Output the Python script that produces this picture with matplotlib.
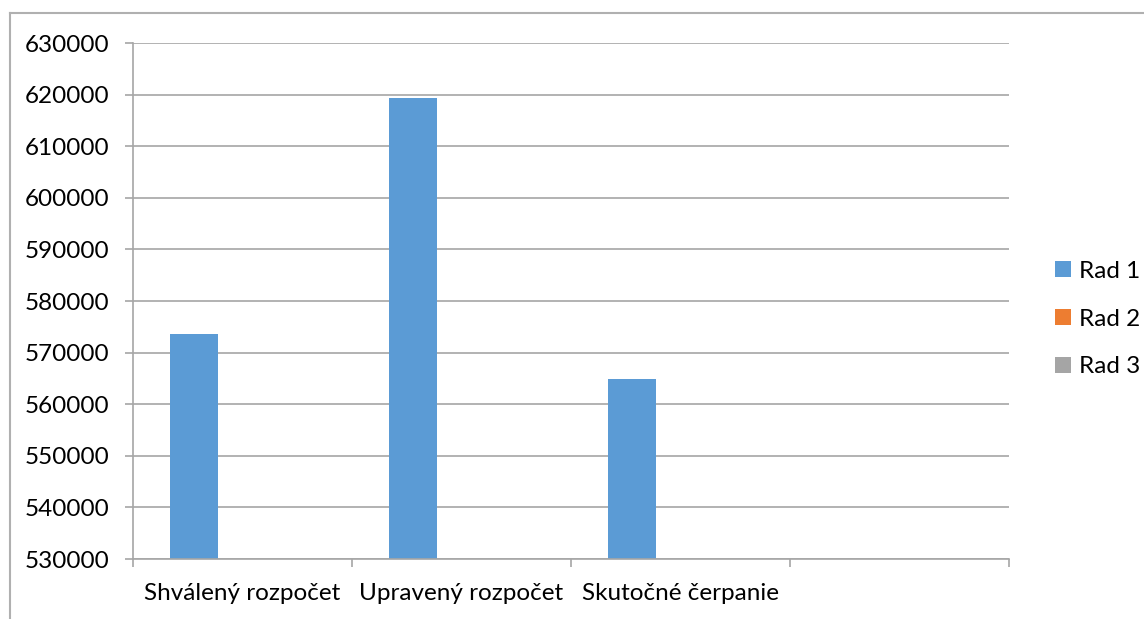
import numpy as np
import matplotlib.pyplot as plt
from matplotlib.lines import Line2D
from matplotlib.patches import Patch

# data
categories = ['Shválený rozpočet', 'Upravený rozpočet', 'Skutočné čerpanie', '']
series_names = ['Rad 1', 'Rad 2', 'Rad 3']
rad1 = [573700, 619400, 564800, np.nan]
rad2 = [np.nan, np.nan, np.nan, np.nan]
rad3 = [np.nan, np.nan, np.nan, np.nan]
colors = ['#5B9BD5', '#ED7D31', '#A5A5A5']
yticks = list(range(530000, 640000, 10000))

plt.rcParams['font.family'] = ['Lato', 'DejaVu Sans']
grid_col = '#a6a6a6'
fs = 17.5

fig = plt.figure(figsize=(11.44, 6.19), dpi=100)
ax = fig.add_axes([133 / 1144, 1 - 559 / 619, (1009 - 133) / 1144, (559 - 43) / 619])

# excel style: 3 series, gap width 150%
w = 1 / 4.5
x = np.arange(len(categories)) + 0.5
for i, vals in enumerate([rad1, rad2, rad3]):
    ax.bar(x + (i - 1) * w, vals, width=w, color=colors[i], bottom=0)

ax.set_xlim(0, len(categories))
ax.set_ylim(yticks[0], yticks[-1])
ax.set_yticks(yticks)
ax.set_yticklabels([str(t) for t in yticks])
ax.yaxis.grid(True, color=grid_col, linewidth=1.2)
ax.set_axisbelow(True)

# category labels between boundary ticks
ax.set_xticks(np.arange(len(categories) + 1))
ax.set_xticklabels([])
ax.set_xticks(x, minor=True)
ax.set_xticklabels(categories, minor=True)
ax.tick_params(axis='x', which='minor', length=0, pad=17, labelsize=fs)
ax.tick_params(axis='x', which='major', length=6, color=grid_col, width=1.2, direction='out')
ax.tick_params(axis='y', length=6, color=grid_col, width=1.2, pad=11, labelsize=fs)

for s in ['top', 'right']:
    ax.spines[s].set_visible(False)
for s in ['left', 'bottom']:
    ax.spines[s].set_color(grid_col)
    ax.spines[s].set_linewidth(1.2)

handles = [Patch(facecolor=c, edgecolor='none') for c in colors]
fig.legend(handles, series_names, loc='center left', bbox_to_anchor=(1045 / 1144, 1 - 319 / 619),
           frameon=False, fontsize=fs, handlelength=0.65, handleheight=0.65,
           handletextpad=0.35, labelspacing=1.1, borderaxespad=0)

# outer chart frame
fig.add_artist(Line2D([10 / 1144, 10 / 1144], [0, 1 - 13 / 619], color='#b0b0b0', linewidth=1.5,
                      transform=fig.transFigure))
fig.add_artist(Line2D([10 / 1144, 1], [1 - 13 / 619, 1 - 13 / 619], color='#b0b0b0', linewidth=1.5,
                      transform=fig.transFigure))

fig.savefig('out.png', dpi=100)
